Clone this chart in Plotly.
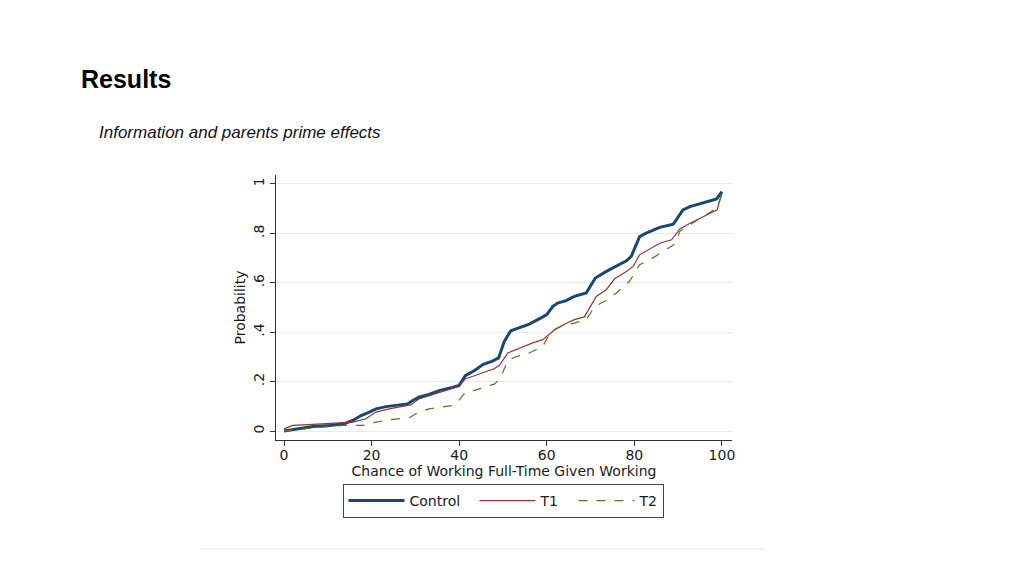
import plotly.graph_objects as go

control_x = [0, 2.8, 6.6, 10.4, 13.8, 15.7, 17.6, 19.5, 21, 23.3, 26.3, 28.2, 29.3, 30.8, 33.1, 35.4, 38.4, 40, 41.4, 43.5, 45.5, 47.6, 49, 50.3, 51.8, 53.7, 56, 58.7, 60, 61.4, 62.5, 64.4, 66.3, 69, 71.1, 73.6, 75.9, 78.2, 79.3, 81.2, 82.7, 85.8, 88.9, 91.1, 92.7, 95.7, 98.8, 100]
control_y = [0, 0.009, 0.019, 0.023, 0.03, 0.043, 0.063, 0.077, 0.09, 0.099, 0.106, 0.11, 0.123, 0.137, 0.148, 0.164, 0.177, 0.185, 0.224, 0.245, 0.27, 0.283, 0.296, 0.363, 0.406, 0.417, 0.433, 0.458, 0.471, 0.505, 0.518, 0.528, 0.545, 0.559, 0.619, 0.646, 0.666, 0.689, 0.707, 0.787, 0.801, 0.824, 0.837, 0.895, 0.908, 0.922, 0.939, 0.969]

t1_x = [0, 2, 6.6, 13.4, 15.7, 18.7, 21, 24, 27, 28.9, 30.8, 34.6, 38.4, 39.9, 41.4, 43.7, 46.7, 48, 49.2, 51.1, 53.7, 56.8, 59.1, 61.8, 64.4, 66.3, 68.6, 71.3, 73.6, 75.5, 78.2, 79.7, 81.2, 83.1, 85.8, 88.5, 90.4, 92.7, 95.7, 98.9, 100]
t1_y = [0.009, 0.023, 0.027, 0.032, 0.036, 0.05, 0.077, 0.09, 0.099, 0.106, 0.13, 0.15, 0.17, 0.18, 0.211, 0.224, 0.244, 0.252, 0.266, 0.316, 0.336, 0.357, 0.37, 0.41, 0.435, 0.451, 0.462, 0.545, 0.572, 0.616, 0.646, 0.666, 0.713, 0.733, 0.76, 0.774, 0.818, 0.841, 0.868, 0.895, 0.962]

t2_x = [0, 6.6, 13.4, 18, 21, 24, 28.6, 30.8, 33.1, 36.1, 38.4, 39.9, 41.4, 43.7, 46.7, 48, 49.2, 51.1, 52.6, 56, 59.1, 61, 63.7, 66.3, 69, 71, 73.6, 75.9, 78.9, 81.2, 83.9, 86.5, 89.2, 90.4, 92.7, 95.7, 98.8, 100]
t2_y = [0, 0.013, 0.023, 0.023, 0.036, 0.046, 0.054, 0.077, 0.09, 0.097, 0.103, 0.123, 0.157, 0.166, 0.184, 0.19, 0.209, 0.283, 0.299, 0.316, 0.343, 0.404, 0.428, 0.437, 0.451, 0.505, 0.528, 0.559, 0.606, 0.673, 0.697, 0.727, 0.756, 0.808, 0.835, 0.868, 0.902, 0.958]

x_ticks = [0, 20, 40, 60, 80, 100]
y_ticks = [0, 0.2, 0.4, 0.6, 0.8, 1]
y_tick_labels = ["0", ".2", ".4", ".6", ".8", "1"]

# the page body has an 8px margin; compensate so screen positions match
OFF = 8

fig = go.Figure()
fig.add_trace(go.Scatter(x=control_x, y=control_y, mode="lines", name="Control",
                         legendwidth=60,
                         line=dict(color="#1a476f", width=3)))
fig.add_trace(go.Scatter(x=t1_x, y=t1_y, mode="lines", name="T1",
                         legendwidth=28,
                         line=dict(color="#90353b", width=1.2)))
fig.add_trace(go.Scatter(x=t2_x, y=t2_y, mode="lines", name="T2",
                         legendwidth=18,
                         line=dict(color="#55752f", width=1.2, dash="dash")))

L, R, T, B = 276 - OFF, 732 - OFF, 175 - OFF, 440 - OFF
W, H = R - L, B - T

def px(xp):
    return (xp - OFF - L) / W

def py(yp):
    return (B - (yp - OFF)) / H

fig.update_layout(
    width=1024, height=576,
    margin=dict(l=L, r=1024 - R, t=T, b=576 - B, autoexpand=False),
    paper_bgcolor="white", plot_bgcolor="white",
    font=dict(family="DejaVu Sans", size=14, color="#1a1a1a"),
    showlegend=True,
    legend=dict(orientation="h", x=px(503), xanchor="center", y=py(484), yanchor="top",
                bordercolor="#444444", borderwidth=1, font=dict(size=14),
                itemwidth=56),
    xaxis=dict(range=[-1.83, 102.3], tickvals=x_ticks, showgrid=False, zeroline=False,
               showline=True, linecolor="#333333", linewidth=1, ticks="outside",
               ticklen=5, tickcolor="#333333", ticklabelstandoff=-3,
               title=dict(text="Chance of Working Full-Time Given Working", standoff=0,
                          font=dict(size=14))),
    yaxis=dict(range=[-0.036, 1.036], tickvals=y_ticks, ticktext=y_tick_labels,
               tickangle=-90, showgrid=True, gridcolor="#eaeaea", gridwidth=1,
               zeroline=False, showline=True, linecolor="#333333", linewidth=1,
               ticks="outside", ticklen=5, tickcolor="#333333",
               title=dict(text="Probability", standoff=2, font=dict(size=14))),
    annotations=[
        dict(text="<b>Results</b>", x=px(79), y=py(79), xref="paper", yref="paper",
             xanchor="left", yanchor="middle", showarrow=False,
             font=dict(family="Liberation Sans", size=25, color="#000000")),
        dict(text="<i>Information and parents prime effects</i>", x=px(97), y=py(132),
             xref="paper", yref="paper", xanchor="left", yanchor="middle", showarrow=False,
             font=dict(family="Liberation Sans", size=17, color="#111111")),
    ],
    shapes=[
        dict(type="line", xref="paper", yref="paper", x0=px(200), x1=px(765),
             y0=py(549), y1=py(549), line=dict(color="#eeeeee", width=1)),
    ],
)

fig.write_html("out.html")
